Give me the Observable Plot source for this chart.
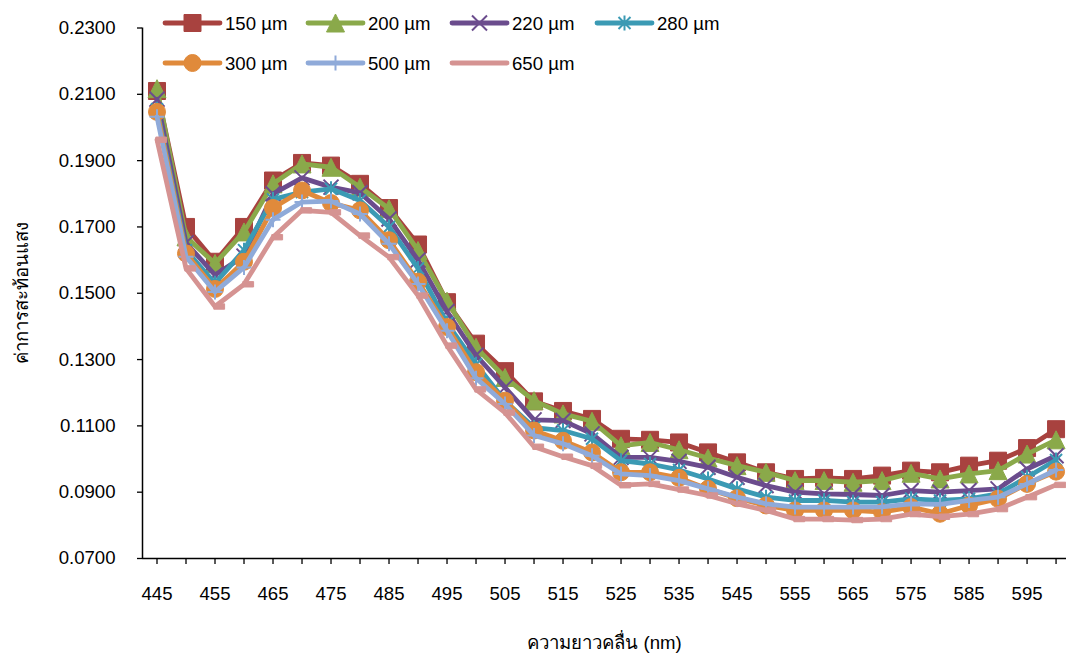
<!DOCTYPE html>
<html>
<head>
<meta charset="utf-8">
<script src="https://cdn.jsdelivr.net/npm/d3@7"></script>
<script src="https://cdn.jsdelivr.net/npm/@observablehq/plot@0.6"></script>
<style>
  html, body { margin: 0; padding: 0; background: #fff; }
  #wrap { position: relative; width: 1066px; height: 656px; font-family: "Liberation Sans", Arial, sans-serif; }
  #legend { position: absolute; left: 0; top: 0; pointer-events: none; }
</style>
</head>
<body>
<div id="wrap"></div>
<script>
// ---------- data ----------
const wavelengths = [445,450,455,460,465,470,475,480,485,490,495,500,505,510,515,520,525,530,535,540,545,550,555,560,565,570,575,580,585,590,595,600];
const xTickLabels = [445,455,465,475,485,495,505,515,525,535,545,555,565,575,585,595];
const yTicks = [0.07,0.09,0.11,0.13,0.15,0.17,0.19,0.21,0.23];
const xDomain = [442.5, 601.8];
const yDomain = [0.07, 0.23];

const s150 = [0.2110,0.1700,0.1595,0.1700,0.1840,0.1893,0.1885,0.1830,0.1757,0.1647,0.1473,0.1348,0.1265,0.1174,0.1145,0.1121,0.1061,0.1058,0.1050,0.1020,0.0990,0.0960,0.0940,0.0943,0.0940,0.0950,0.0965,0.0960,0.0980,0.0995,0.1033,0.1090];
const s200 = [0.2117,0.1670,0.1590,0.1685,0.1830,0.1890,0.1880,0.1820,0.1755,0.1629,0.1476,0.1337,0.1246,0.1176,0.1136,0.1114,0.1040,0.1050,0.1028,0.1003,0.0980,0.0960,0.0935,0.0935,0.0930,0.0935,0.0957,0.0940,0.0955,0.0965,0.1015,0.1058];
const s220 = [0.2085,0.1652,0.1555,0.1612,0.1800,0.1848,0.1820,0.1803,0.1724,0.1600,0.1445,0.1313,0.1216,0.1118,0.1116,0.1076,0.1005,0.1005,0.0993,0.0975,0.0945,0.0920,0.0900,0.0895,0.0893,0.0890,0.0905,0.0900,0.0905,0.0910,0.0970,0.1010];
const s280 = [0.2055,0.1630,0.1530,0.1630,0.1783,0.1805,0.1815,0.1780,0.1700,0.1575,0.1410,0.1286,0.1175,0.1095,0.1086,0.1061,0.0995,0.0985,0.0967,0.0940,0.0910,0.0885,0.0875,0.0875,0.0870,0.0870,0.0880,0.0875,0.0880,0.0895,0.0945,0.0997];
const s300 = [0.2047,0.1620,0.1513,0.1595,0.1757,0.1810,0.1772,0.1750,0.1660,0.1535,0.1398,0.1262,0.1176,0.1086,0.1055,0.1020,0.0960,0.0960,0.0943,0.0910,0.0882,0.0860,0.0845,0.0845,0.0845,0.0840,0.0855,0.0835,0.0860,0.0880,0.0925,0.0962];
const s500 = [0.2032,0.1610,0.1504,0.1578,0.1722,0.1775,0.1778,0.1739,0.1649,0.1528,0.1387,0.1244,0.1166,0.1071,0.1046,0.1010,0.0955,0.0950,0.0935,0.0910,0.0885,0.0865,0.0855,0.0855,0.0855,0.0856,0.0865,0.0863,0.0875,0.0885,0.0925,0.0967];
const s650 = [0.1963,0.1575,0.1460,0.1527,0.1669,0.1750,0.1744,0.1674,0.1609,0.1493,0.1342,0.1210,0.1140,0.1037,0.1007,0.0980,0.0921,0.0925,0.0908,0.0890,0.0865,0.0845,0.0819,0.0819,0.0816,0.0819,0.0834,0.0826,0.0834,0.0849,0.0885,0.0922];

const seriesNames  = ["150 µm","200 µm","220 µm","280 µm","300 µm","500 µm","650 µm"];
const seriesValues = [s150, s200, s220, s280, s300, s500, s650];
const seriesColors = ["#A8423F","#8AA94A","#6B4C8D","#3B9AB4","#E08A3B","#8FAAD9","#D59392"];

// ---------- marker symbols (Excel-like) ----------
const hs = size => Math.sqrt(size / Math.PI);
const symSquare = { draw(c, size) { const h = hs(size); c.rect(-h, -h, 2*h, 2*h); } };
const symTriangle = { draw(c, size) { const h = hs(size); c.moveTo(0, -h); c.lineTo(h, h); c.lineTo(-h, h); c.closePath(); } };
const symX = { draw(c, size) { const h = hs(size); c.moveTo(-h, -h); c.lineTo(h, h); c.moveTo(h, -h); c.lineTo(-h, h); } };
const symStar = { draw(c, size) { const h = hs(size); const d = h*0.8; c.moveTo(-d, -d); c.lineTo(d, d); c.moveTo(d, -d); c.lineTo(-d, d); c.moveTo(0, -h); c.lineTo(0, h); } };
const symCircle = { draw(c, size) { const h = hs(size); c.moveTo(h, 0); c.arc(0, 0, h, 0, 2*Math.PI); } };
const symPlus = { draw(c, size) { const h = hs(size); c.moveTo(-h, 0); c.lineTo(h, 0); c.moveTo(0, -h); c.lineTo(0, h); } };
const symDash = { draw(c, size) { const h = hs(size); c.rect(-0.2*h, -0.45*h, 1.8*h, 0.9*h); } };

const seriesSymbols = [
  {sym: symSquare,   r: 8.5, filled: true},
  {sym: symTriangle, r: 9,   filled: true},
  {sym: symX,        r: 7.5, filled: false},
  {sym: symStar,     r: 7.5, filled: false},
  {sym: symCircle,   r: 8.5, filled: true},
  {sym: symPlus,     r: 7.5, filled: false},
  {sym: symDash,     r: 6,   filled: true}
];

const rows = seriesNames.map((name, i) => wavelengths.map((wl, j) => ({series: name, wl, value: seriesValues[i][j]})));

const seriesMarks = rows.flatMap((data, i) => {
  const col = seriesColors[i];
  const m = seriesSymbols[i];
  return [
    Plot.line(data, {x: "wl", y: "value", stroke: col, strokeWidth: 4.8, strokeLinejoin: "round", strokeLinecap: "round"}),
    Plot.dot(data, {x: "wl", y: "value", symbol: m.sym, r: m.r,
      fill: m.filled ? col : "none", stroke: col, strokeWidth: m.filled ? 1 : 2})
  ];
});

const chart = Plot.plot({
  width: 1066,
  height: 656,
  marginLeft: 142,
  marginRight: 0,
  marginTop: 27.5,
  marginBottom: 98,
  style: {fontFamily: "\"Liberation Sans\", Arial, sans-serif", fontSize: "18.6px", color: "#000", background: "#fff"},
  x: {type: "linear", domain: xDomain},
  y: {domain: yDomain},
  marks: [
    Plot.axisY({ticks: yTicks, tickFormat: d3.format(".4f"), tickSize: 5, tickPadding: 22,
      label: "ค่าการสะท้อนแสง", labelAnchor: "center", labelOffset: 128, labelArrow: "none",
      stroke: "#000", strokeWidth: 1.3}),
    Plot.axisX({ticks: wavelengths, tickFormat: d => xTickLabels.includes(d) ? String(d) : "", tickSize: 6, tickPadding: 22,
      label: "ความยาวคลื่น (nm)", labelAnchor: "center", labelOffset: 90, labelArrow: "none",
      stroke: "#000", strokeWidth: 1.3}),
    Plot.ruleX([xDomain[0]], {stroke: "#000", strokeWidth: 1.5}),
    Plot.ruleY([yDomain[0]], {stroke: "#000", strokeWidth: 1.5}),
    ...seriesMarks
  ]
});

const wrap = document.getElementById("wrap");
wrap.appendChild(chart);

// ---------- legend (overlay inside plot area, two rows) ----------
const legendCols = [165, 308, 452, 597];
const legendRows = [23, 63];
const lsvg = d3.select(wrap).append("svg")
  .attr("id", "legend").attr("width", 1066).attr("height", 90)
  .style("font-family", "\"Liberation Sans\", Arial, sans-serif");
seriesNames.forEach((name, i) => {
  const cx = legendCols[i % 4], cy = legendRows[Math.floor(i / 4)];
  const g = lsvg.append("g").attr("transform", `translate(${cx},${cy})`);
  const col = seriesColors[i], m = seriesSymbols[i];
  g.append("line").attr("x1", 0).attr("x2", 55).attr("y1", 0).attr("y2", 0)
    .attr("stroke", col).attr("stroke-width", 4.8).attr("stroke-linecap", "round");
  if (i !== 6) {
    g.append("path").attr("transform", "translate(27.5,0)")
      .attr("d", d3.symbol().type(m.sym).size(Math.PI * m.r * m.r)())
      .attr("fill", m.filled ? col : "none").attr("stroke", col).attr("stroke-width", m.filled ? 1 : 2);
  }
  g.append("text").attr("x", 60).attr("y", 0).attr("dy", "0.35em")
    .attr("font-size", "18.6px").attr("fill", "#000").text(name);
});
</script>
</body>
</html>
